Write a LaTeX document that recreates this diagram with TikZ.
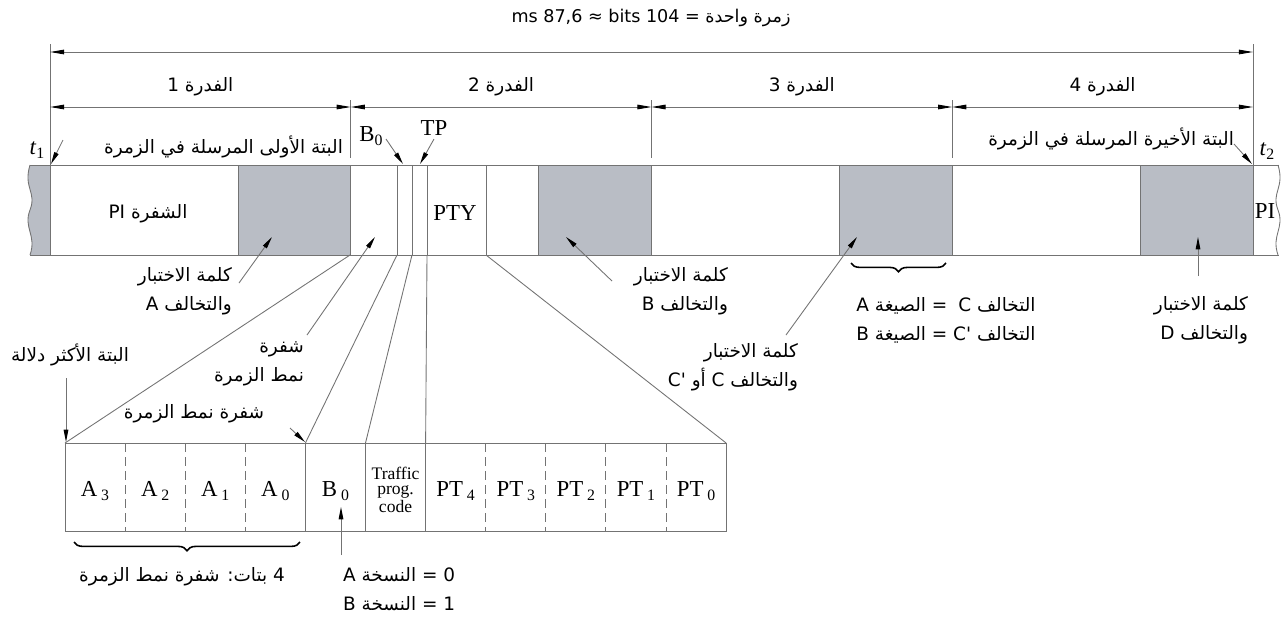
\documentclass[tikz,border=0pt]{standalone}
\usepackage{fontspec}
\setmainfont{Liberation Serif}
\newfontfamily\arabicfont[Script=Arabic]{DejaVu Sans}
\TeXXeTstate=1
\usetikzlibrary{arrows.meta,decorations.pathreplacing}

\definecolor{cwgray}{RGB}{185,189,197}
\definecolor{hairgray}{RGB}{115,115,115}
\newcommand{\ar}[1]{\beginR #1\endR}
\newcommand{\lowidx}[1]{\raisebox{-0.45ex}{\fontsize{9}{9}\selectfont #1}}

\tikzset{
	lbl/.style={font=\arabicfont\fontsize{10.5}{16.5}\selectfont,inner sep=1pt},
	sym/.style={font=\fontsize{13}{14}\selectfont,inner sep=1pt},
	hair/.style={draw=hairgray,line width=0.5pt},
	dimline/.style={hair,{Triangle[length=8pt,width=2.6pt,color=black]}-{Triangle[length=8pt,width=2.6pt,color=black]}},
	ptr/.style={hair,-{Triangle[length=7pt,width=2.6pt,color=black]}},
	cword/.style={hair,fill=cwgray},
	curly/.style={draw=black,decorate,decoration={brace,amplitude=5pt},line width=0.9pt}
}

\begin{document}
\begin{tikzpicture}[x=0.02cm,y=-0.02cm]
	\useasboundingbox (0,0) rectangle (1285,616);
	\node[lbl,font=\arabicfont\fontsize{10}{12}\selectfont] (burst) at (651,18) {\ar{زمرة واحدة = 104 bits ≈ 87,6 ms}};
	\coordinate (tl) at (50,52);
	\coordinate (tr) at (1253,52);
	\draw[hair] (50,44) -- (50,165);
	\draw[hair] (1253,44) -- (1253,165);
	\draw[dimline] (tl) -- (tr);
	\foreach \k in {0,...,4} \coordinate (e\k) at ({50+300.75*\k},107);
	\foreach \k in {1,2,3} \draw[hair] ({50+300.75*\k},100) -- ({50+300.75*\k},158);
	\foreach \a/\b in {0/1,1/2,2/3,3/4} {
		\draw[dimline] (e\a) -- (e\b);
		\node[lbl] (blk\b) at ({50+300.75*(\a+0.5)},87) {\ar{الفدرة \b}};
	}

	\fill[cwgray] (50,165) -- (30,165) .. controls (23,188) and (37,192) .. (30,210) .. controls (23,228) and (37,235) .. (30,255) -- (50,255) -- cycle;
	\draw[hair] (30,165) .. controls (23,188) and (37,192) .. (30,210) .. controls (23,228) and (37,235) .. (30,255);
	\draw[hair] (1278,165) .. controls (1285,188) and (1271,192) .. (1278,210) .. controls (1285,228) and (1271,235) .. (1278,255);
	\draw[hair] (30,165) -- (1279,165);
	\draw[hair] (30,255) -- (1279,255);
	\draw[hair] (50,165) -- (50,255);
	\draw[hair] (1253,165) -- (1253,255);
	\foreach \k in {0,...,3} \draw[cword] ({50+300.75*\k+188},165) rectangle ({50+300.75*(\k+1)},255);
	\foreach \x in {397,412,427,486} \draw[hair] (\x,165) -- (\x,255);
	\node[lbl] (picode) at (148,214) {\ar{الشفرة PI}};
	\node[sym] (pty) at (455,213) {PTY};
	\node[sym] (pinext) at (1265,211) {PI};

	\node[sym] (t1) at (37,150) {\textit{t}\lowidx{1}};
	\coordinate (t1from) at (63,140);
	\coordinate (t1to) at (51,164);
	\draw[ptr] (t1from) -- (t1to);
	\node[lbl,anchor=east] (firstbit) at (345,147) {\ar{البتة الأولى المرسلة في الزمرة}};
	\node[sym] (b0) at (371,136) {B\lowidx{0}};
	\coordinate (b0from) at (386,139);
	\coordinate (b0to) at (403,164);
	\draw[ptr] (b0from) -- (b0to);
	\node[sym] (tp) at (434,128) {TP};
	\coordinate (tpfrom) at (434,139);
	\coordinate (tpto) at (420,164);
	\draw[ptr] (tpfrom) -- (tpto);
	\node[lbl,anchor=east] (lastbit) at (1236,139) {\ar{البتة الأخيرة المرسلة في الزمرة}};
	\coordinate (t2from) at (1234,144);
	\coordinate (t2to) at (1252,164);
	\draw[ptr] (t2from) -- (t2to);
	\node[sym] (t2) at (1267,151) {\textit{t}\lowidx{2}};

	\node[lbl,align=right,anchor=east] (cwa) at (234,291) {\ar{كلمة الاختبار}\\\ar{والتخالف A}};
	\coordinate (cwafrom) at (239,283);
	\coordinate (cwato) at (272,237);
	\draw[ptr] (cwafrom) -- (cwato);
	\node[lbl,align=right,anchor=east] (gtc) at (306,364) {\ar{شفرة}\\\ar{نمط الزمرة}};
	\coordinate (gtcfrom) at (307,335);
	\coordinate (gtcto) at (375,237);
	\draw[ptr] (gtcfrom) -- (gtcto);
	\node[lbl,align=right,anchor=east] (cwb) at (730,291) {\ar{كلمة الاختبار}\\\ar{والتخالف B}};
	\coordinate (cwbfrom) at (612,281);
	\coordinate (cwbto) at (566,237);
	\draw[ptr] (cwbfrom) -- (cwbto);
	\coordinate (brl) at (946,263);
	\coordinate (brr) at (851,263);
	\draw[curly] (brl) -- (brr);
	\node[lbl,align=right] (offs) at (946,320) {\ar{التخالف C\phantom{'} = الصيغة A}\\\ar{التخالف C' = الصيغة B}};
	\node[lbl,align=right,anchor=east] (cwc) at (800,367) {\ar{كلمة الاختبار}\\\ar{والتخالف C أو C'}};
	\coordinate (cwcfrom) at (786,335);
	\coordinate (cwcto) at (857,237);
	\draw[ptr] (cwcfrom) -- (cwcto);
	\node[lbl,align=right,anchor=east] (cwd) at (1250,320) {\ar{كلمة الاختبار}\\\ar{والتخالف D}};
	\coordinate (cwdfrom) at (1198,276);
	\coordinate (cwdto) at (1198,237);
	\draw[ptr] (cwdfrom) -- (cwdto);

	\node[lbl] (msb) at (70,355) {\ar{البتة الأكثر دلالة}};
	\coordinate (msbfrom) at (66,378);
	\coordinate (msbto) at (66,442);
	\draw[ptr] (msbfrom) -- (msbto);
	\node[lbl] (gtclow) at (194,414) {\ar{شفرة نمط الزمرة}};
	\coordinate (gtclowfrom) at (290,428);
	\coordinate (gtclowto) at (305,442);
	\draw[ptr] (gtclowfrom) -- (gtclowto);

	\foreach \i in {0,...,11} \coordinate (c\i) at ({65+60.1*\i},443);
	\draw[hair] (c0) rectangle (726,531);
	\foreach \i in {4,5,6} \draw[hair] (c\i) -- ++(0,88);
	\foreach \i in {1,2,3,7,8,9,10} \draw[hair,dash pattern=on 5pt off 3pt] (c\i) -- ++(0,88);
	\foreach \i/\t in {0/A\,\lowidx{3},1/A\,\lowidx{2},2/A\,\lowidx{1},3/A\,\lowidx{0},4/B\,\lowidx{0},6/PT\,\lowidx{4},7/PT\,\lowidx{3},8/PT\,\lowidx{2},9/PT\,\lowidx{1},10/PT\,\lowidx{0}}
		\node[sym] (bit\i) at ({65+60.1*(\i+0.5)},491) {\t};
	\node[align=center,inner sep=0pt,font=\fontsize{10}{8.8}\selectfont] (bit5) at ({65+60.1*5.5},490) {Traffic\\prog.\\code};

	\coordinate (f0) at (350,255);
	\coordinate (f1) at (397,255);
	\coordinate (f2) at (412,255);
	\coordinate (f3) at (427,255);
	\coordinate (f4) at (486,255);
	\draw[hair] (f0) -- (c0);
	\draw[hair] (f1) -- (c4);
	\draw[hair] (f2) -- (c5);
	\draw[hair] (f3) -- (c6);
	\draw[hair] (f4) -- (c11);

	\coordinate (bral) at (300,542);
	\coordinate (brar) at (74,542);
	\draw[curly] (bral) -- (brar);
	\node[lbl] (fourbits) at (182,577) {\ar{4 بتات: شفرة نمط الزمرة}};
	\coordinate (b0from2) at (341,555);
	\coordinate (b0to2) at (341,507);
	\draw[ptr] (b0from2) -- (b0to2);
	\node[lbl,align=left,anchor=west] (vers) at (341,589) {\ar{0 = النسخة A}\\\ar{1 = النسخة B}};
\end{tikzpicture}
\end{document}
